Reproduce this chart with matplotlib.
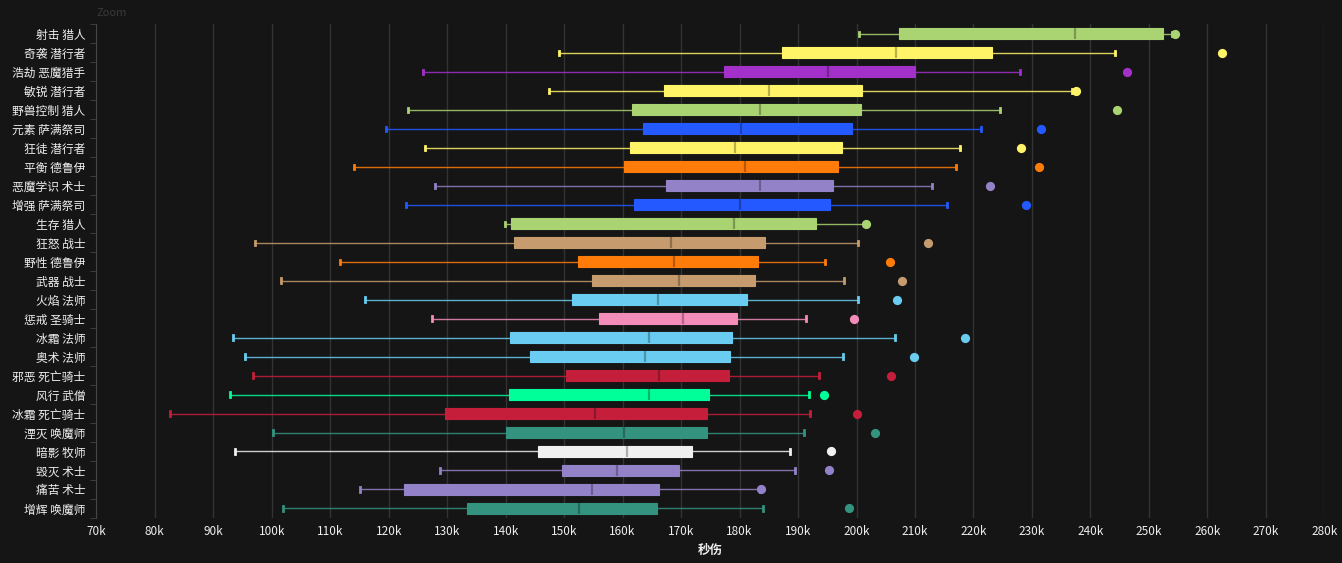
import matplotlib
matplotlib.use("Agg")
import matplotlib.pyplot as plt
import matplotlib.colors as mcolors
import numpy as np

plt.rcParams["font.family"] = ["Noto Sans CJK SC", "DejaVu Sans"]

# spec names, top to bottom
specs = [
    "射击 猎人", "奇袭 潜行者", "浩劫 恶魔猎手", "敏锐 潜行者", "野兽控制 猎人",
    "元素 萨满祭司", "狂徒 潜行者", "平衡 德鲁伊", "恶魔学识 术士", "增强 萨满祭司",
    "生存 猎人", "狂怒 战士", "野性 德鲁伊", "武器 战士", "火焰 法师",
    "惩戒 圣骑士", "冰霜 法师", "奥术 法师", "邪恶 死亡骑士", "风行 武僧",
    "冰霜 死亡骑士", "湮灭 唤魔师", "暗影 牧师", "毁灭 术士", "痛苦 术士",
    "增辉 唤魔师",
]

# box stats in k dps
whislo = [200.5, 149.1, 125.9, 147.4, 123.3, 119.5, 126.2, 114.1, 127.9, 123.0,
          139.9, 97.1, 111.7, 101.6, 115.9, 127.4, 93.4, 95.4, 96.8, 92.9,
          82.6, 100.2, 93.7, 128.8, 115.1, 101.9]
q1 = [207.3, 187.3, 177.3, 167.1, 161.6, 163.5, 161.3, 160.2, 167.4, 161.9,
      140.9, 141.4, 152.4, 154.8, 151.3, 156.0, 140.7, 144.2, 150.3, 140.6,
      129.6, 140.1, 145.5, 149.6, 122.6, 133.4]
med = [237.4, 206.7, 195.1, 185.0, 183.5, 180.3, 179.2, 180.9, 183.5, 180.1,
       179.0, 168.3, 168.8, 169.6, 166.0, 170.3, 164.5, 163.8, 166.2, 164.5,
       155.3, 160.2, 160.8, 159.0, 154.8, 152.5]
q3 = [252.5, 223.2, 210.0, 201.0, 200.7, 199.3, 197.6, 196.8, 195.9, 195.4,
      193.0, 184.3, 183.2, 182.6, 181.3, 179.6, 178.7, 178.4, 178.2, 174.8,
      174.4, 174.4, 171.9, 169.6, 166.2, 165.9]
whishi = [254.0, 244.2, 228.0, 236.9, 224.5, 221.3, 217.7, 217.0, 212.9, 215.5,
          201.3, 200.2, 194.6, 197.9, 200.2, 191.4, 206.6, 197.7, 193.6, 191.9,
          192.0, 191.0, 188.6, 189.5, 183.5, 184.0]
top = [254.4, 262.5, 246.2, 237.5, 244.5, 231.5, 228.1, 231.2, 222.9, 229.0,
       201.6, 212.3, 205.8, 207.7, 207.0, 199.6, 218.5, 209.8, 205.9, 194.4,
       200.0, 203.2, 195.6, 195.3, 183.7, 198.7]

colors = [
    "#aad372", "#fff468", "#a330c9", "#fff468", "#aad372",
    "#2459ff", "#fff468", "#ff7c0a", "#9482c9", "#2459ff",
    "#aad372", "#c69b6d", "#ff7c0a", "#c69b6d", "#69ccf0",
    "#f48cba", "#69ccf0", "#69ccf0", "#c41e3a", "#00ff98",
    "#c41e3a", "#33937f", "#f0f0f0", "#9482c9", "#9482c9",
    "#33937f",
]

BG = "#151515"


def darker(c, f=0.72):
    r, g, b = mcolors.to_rgb(c)
    return (r * f, g * f, b * f)


fig = plt.figure(figsize=(13.42, 5.63), dpi=100, facecolor=BG)
ax = fig.add_axes([0.0718, 0.080, 0.9150, 0.877])
ax.set_facecolor(BG)

pos = np.arange(len(specs))
for i in range(len(specs)):
    st = dict(whislo=whislo[i] * 1000, q1=q1[i] * 1000, med=med[i] * 1000,
              q3=q3[i] * 1000, whishi=whishi[i] * 1000, fliers=[])
    c = colors[i]
    ax.bxp([st], positions=[pos[i]], vert=False, widths=0.58,
           patch_artist=True, showfliers=False, capwidths=0.22,
           boxprops=dict(facecolor=c, edgecolor=c, linewidth=0.8),
           medianprops=dict(color=darker(c), linewidth=1.6),
           whiskerprops=dict(color=c, linewidth=1.0, alpha=0.85),
           capprops=dict(color=c, linewidth=2.0),
           zorder=3)
    ax.scatter([top[i] * 1000], [pos[i]], s=44, color=c, zorder=4,
               linewidths=0)

ax.set_xlim(70000, 280000)
ax.set_ylim(len(specs) - 0.5, -0.5)
xt = np.arange(70000, 280001, 10000)
ax.set_xticks(xt)
ax.set_xticklabels([f"{int(v / 1000)}k" for v in xt])
ax.set_yticks(pos)
ax.set_yticklabels(specs)
ax.set_yticks(np.arange(-0.5, len(specs), 1), minor=True)

ax.grid(axis="x", color="#333333", linewidth=1.0, zorder=0)
ax.set_axisbelow(True)
for s in ["top", "right", "bottom"]:
    ax.spines[s].set_visible(False)
ax.spines["left"].set_color("#444444")
ax.tick_params(axis="y", which="major", length=0, colors="#eeeeee",
               labelsize=8.5, pad=8)
ax.tick_params(axis="y", which="minor", length=4, color="#444444")
ax.tick_params(axis="x", length=0, colors="#eeeeee", labelsize=8.5, pad=5)
ax.set_xlabel("秒伤", color="#eeeeee", fontsize=9, fontweight="bold",
              labelpad=4)

fig.text(0.0718, 0.985, "Zoom", color="#3a3a3a", fontsize=8, va="top")

fig.savefig("out.png", dpi=100, facecolor=BG)
